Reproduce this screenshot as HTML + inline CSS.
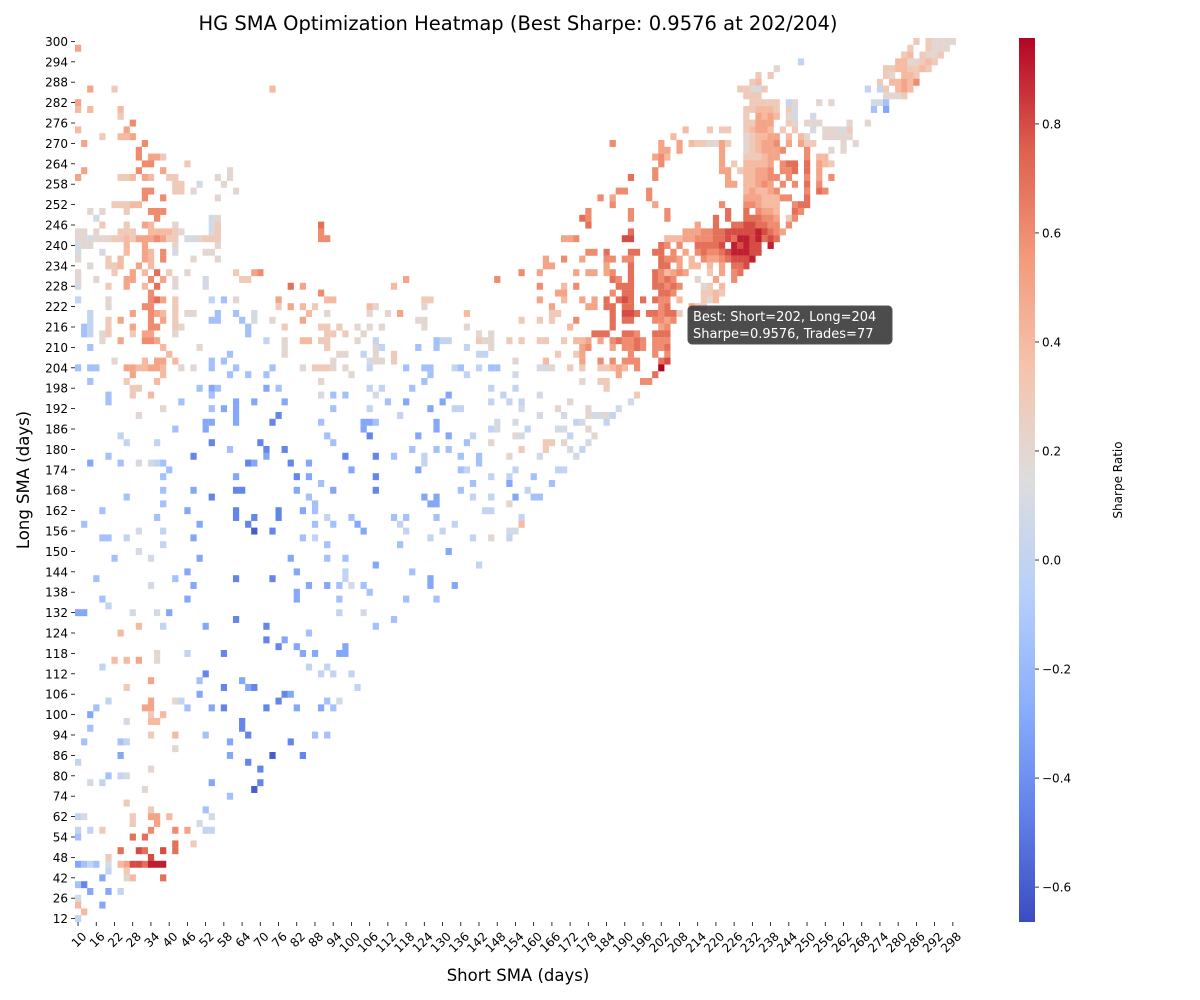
<!DOCTYPE html>
<html><head><meta charset="utf-8"><style>
html,body{margin:0;padding:0;background:#fff;}
svg{display:block;font-family:"DejaVu Sans","Liberation Sans",sans-serif;}
</style></head><body>
<svg id="chart" width="1200" height="1000" viewBox="0 0 1200 1000" xmlns="http://www.w3.org/2000/svg">
<defs><linearGradient id="cbgrad" x1="0" y1="1" x2="0" y2="0"></linearGradient></defs>
<text x="518" y="30" text-anchor="middle" font-size="19.5" fill="#000">HG SMA Optimization Heatmap (Best Sharpe: 0.9576 at 202/204)</text>
<g id="cells"></g>
<g id="xaxis"></g>
<g id="yaxis"></g>
<text x="518" y="981" text-anchor="middle" font-size="16.5">Short SMA (days)</text>
<text transform="translate(29,480) rotate(-90)" text-anchor="middle" font-size="16.5">Long SMA (days)</text>
<g>
<rect x="688" y="306" width="204" height="38" rx="4" fill="#333" fill-opacity="0.88" stroke="#555"/>
<text x="693" y="321" font-size="13" fill="#fff">Best: Short=202, Long=204</text>
<text x="693" y="338" font-size="13" fill="#fff">Sharpe=0.9576, Trades=77</text>
</g>
<g id="colorbar"></g>
<text transform="translate(1122,480) rotate(-90)" text-anchor="middle" font-size="12">Sharpe Ratio</text>
</svg>
<script>
const levelCodes = "abcdefghijklmno";
const levelValues = [-0.6,-0.45,-0.3,-0.15,0.0,0.1,0.2,0.3,0.4,0.5,0.6,0.7,0.8,0.9,0.9576];
const colorbarTicks = [0.8,0.6,0.4,0.2,0.0,-0.2,-0.4,-0.6];
const vmin = -0.664, vmax = 0.9576;
const longValues = [300,298,296,294,292,290,288,286,284,282,280,278,276,274,272,270,268,266,264,262,260,258,256,254,252,250,248,246,244,242,240,238,236,234,232,230,228,226,224,222,220,218,216,214,212,210,208,206,204,202,200,198,196,194,192,190,188,186,184,182,180,178,176,174,172,170,168,166,164,162,160,158,156,154,152,150,148,146,144,142,140,138,136,134,132,130,126,124,122,120,118,116,114,112,110,108,106,104,102,100,98,96,94,90,88,86,84,82,80,78,76,74,70,66,62,60,56,54,52,50,48,46,44,42,38,32,26,20,16,12];
const shortValues = [];
for (let s = 10; s <= 300; s += 2) shortValues.push(s);
const rowCells = [
"138h,140h,141g,142g,143g,144g",
"0j,137h,140h,141g,142g,143g",
"136h,137i,139h,140g,141g,142h",
"119e,135i,136i,137g,138g,139h,140i,141h",
"115g,133h,134h,135i,136i,137h,138h,139i,140h",
"112h,114h,133h,134g,136i,137i,138h",
"111h,112i,132h,134i,135i,136j,137i,138k",
"2j,6h,32i,109h,110h,111g,112f,113h,130e,132e,133h,135i,136j,137i",
"110h,111h,112h,133g,134g,135g,136h",
"0j,111h,112h,113h,114h,115h,117e,118g,122g,124g,131f,132f,133d",
"0i,2i,7i,110h,111h,112i,113i,114i,115h,117h,118f,131d,133c",
"7h,110h,112j,113i,114j,115i,117g,118f,121f",
"9k,110h,111h,112j,113j,114j,117h,118g,120g,121g,122g,127g,130g",
"0i,8j,100i,104h,106h,107h,110h,111i,112j,113j,114i,116h,118h,121f,123g,124g,125g,126f,127h",
"4h,7i,8i,9j,98i,110g,111h,112i,113i,114j,115j,117i,119i,120g,123g,124g,125g,126g,127g",
"1j,11k,88k,96j,99j,101i,102h,103h,104g,105g,106j,107h,110g,111h,112i,113j,114j,115k,117j,119j,120h,121h,126g,128g",
"10k,96j,97j,99j,106j,110g,111h,112i,113j,114j,115j,116k,120k,124g,126g",
"10k,12j,13j,14h,95j,96k,97i,106j,110h,111h,112h,113i,114j,115j,120k,122i,123i",
"11k,12k,18h,96k,106j,108h,110i,111i,112i,113i,114j,116k,117l,118l,120l,122j,123i,124h",
"1j,10k,14j,25g,95k,106j,107j,109h,110i,111i,112j,113j,114k,116k,117k,118l,120l,122j",
"0j,7h,8h,9i,11j,12i,15h,16h,23g,25g,91l,95k,107j,110i,111i,112j,113j,114k,115k,117k,120k,122j,124k",
"16h,17h,20f,24g,107j,108j,110i,111i,112j,113k,114j,116k,118k,120l,122k",
"11k,12k,16h,17h,19g,26g,89k,90k,94k,110i,111j,112i,113i,114j,115k,120k,122l,123k",
"11k,14k,23g,86k,88j,94k,110j,111j,112j,113i,114i,115i,116k,117k,120l",
"6h,7h,8h,9i,10i,88k,95j,106k,110k,111k,112j,113i,114i,115i,118k,119l,120l",
"2g,4g,8h,12k,13k,14k,84k,91k,97k,107l,110l,112k,113j,114j,115i,118l,119k",
"3f,13k,22f,23g,83l,84k,91k,97k,105l,107l,110l,111l,112l,113k,114k,115j,117h,118k",
"4h,8h,11j,12i,16g,22f,23h,40l,84l,102j,105l,108l,109l,110m,111m,112l,113l,114k,115k,117k",
"0g,1g,3g,7h,8h,9h,12i,13i,14i,15i,16h,17g,22f,23h,40k,91l,100j,101j,102j,103k,104k,105l,106l,107m,108m,109m,110m,111m,112n,113m,114l,115k,116j",
"0g,1g,2f,3g,4g,5g,6h,7h,8i,9h,10j,11j,12j,13k,14j,15h,16h,18f,19f,20g,21h,22h,23h,40k,41k,80j,81j,82k,90m,91m,97i,98i,99i,100j,101j,102k,103k,104k,105l,106l,107m,108l,109n,110n,111m,112n,113l,114m,115l",
"0f,1g,2g,8i,11j,16g,23g,96l,97k,99k,102l,103l,104l,105l,106m,108n,109m,110n,111m,112m,114n",
"0f,4f,8i,11j,12i,14k,16f,21g,22g,84k,85k,87l,91l,92l,95l,96l,98k,100j,102k,103l,104k,105k,106l,107m,108n,109n,110n,111m,112m",
"0g,5h,7i,11j,12i,14k,19g,23g,77j,80k,83j,87k,88k,90k,91k,96l,97k,98k,99j,101i,103k,104j,105j,106k,107l,108m,109m,110m,111n",
"2g,5h,6h,7i,10j,12i,77j,78j,87j,91l,96l,97l,99j,101i,102i,104i,106j,108l,109l,110m",
"0g,6h,9j,11i,13l,15h,18g,26h,29j,30k,73k,76j,82j,84j,85j,87j,88k,91l,95l,96k,97i,98j,99k,100j,104h,106j,108k,109l",
"0g,3g,8j,9j,12k,14j,16g,21f,27h,28h,54j,69k,88l,89k,91l,95l,96k,97l,98k,102g,105j,108k",
"0f,5h,8j,11i,13l,16g,21f,35l,37j,52i,76k,80i,82k,89l,90l,91l,95l,96l,97k,98l,99k,103g,104h,106i",
"12k,40k,79j,80j,88k,90l,91l,96l,97l,98k,103h,104h,105i,106h",
"0e,5g,12k,13l,14j,16h,22e,24d,26g,33j,41i,42i,57h,58h,76j,80i,83j,85j,87l,89l,90m,91l,93l,95l,96k,97k,99i,103h,104g,105i",
"5g,11k,12k,16h,33h,35j,37i,39h,48i,49g,57g,78j,84j,85j,87l,88l,90l,91l,96k,97l,101j,102h,103h",
"2e,9j,12k,13j,14i,16h,18g,19g,23d,26d,29f,38i,41g,48g,51g,53j,64i,78h,79h,88l,90m,91m,92l,94l,95l,96k,97l,98l,99h",
"2e,5h,7j,12k,14j,16h,22d,23d,27d,29f,32g,37j,56g,57g,73h,76h,78h,82k,88l,90l,91l,95k,96k,97j,98k",
"1d,2e,5h,9j,12k,13k,16h,17g,28d,34h,40h,41h,43h,46g,48g,50g,57g,64g,81i,88l,96j,97k",
"1d,2e,4g,5h,9h,11j,12j,16g,28d,41h,42h,44h,47g,66g,68g,85l,86l,87l,90l,91l,92k,95l,96l,97l",
"4g,7j,11k,12k,13j,31e,34g,37i,38i,40h,41h,46g,49e,59d,60e,61e,66h,67g,68g,71h,73h,76h,77h,80h,82i,83i,84j,86j,88k,89l,90k,91k,92l,93k,95k,96k,97k",
"2d,14i,20g,34g,41h,49g,50e,56d,59d,64e,68g,83j,84k,88j,90k,91k,92l,93k,95k,96k,97l",
"15i,25d,34g,43g,44g,47e,49g,52h,66e,67e,79h,82h,83j,91k,95k,97k",
"6g,11i,13j,14j,16i,22d,24d,42g,48f,49g,50g,52h,72g,77i,83j,86k,88k,90k,91k,92k,96l,97m",
"0d,2d,3d,8j,9j,10i,11i,12j,13j,14i,17g,19g,22d,26d,32d,37g,39h,40h,41h,42g,44g,48e,54d,57d,58d,62e,63d,66e,68d,69d,76f,77f,78g,81h,83h,86h,87h,88i,89j,90i,92k,96o",
"9j,14i,25d,28d,31d,45g,58d,64e,72f,89j,95l",
"2d,8h,13i,40g,57d,83g,86h,87h,93k,94k",
"9h,10h,20d,22c,23d,31c,33d,48e,50e,55d,68e,72e,87h",
"5d,9h,12i,22d,40f,42d,44d,49f,61c,70e,76f,92h",
"5d,17d,26c,29c,34c,51d,54c,60c,68e,71e,73e,81g,91f",
"14g,22d,24c,26c,42d,48e,58c,62e,63e,73f,79g,84g,89f",
"10g,26c,33b,53e,76f,80f,84g,85f,86f,87g,88e",
"21c,22c,26c,32b,40d,47c,48c,49d,59c,69f,72f,82e,83f,87e",
"16d,21c,47c,59c,68e,69f,74e,79f,80f,84g",
"7e,41d,48b,56c,61c,65e,72g,73f,81e,85g",
"8e,13e,22b,30b,42d,64d,68g,77h,78h,80g,84f",
"25d,31b,34b,55d,59d,61d,73h,77h,81f,83e",
"5d,19b,31c,44b,49b,52d,57e,63d,66d,71g,76f,82f",
"2c,7d,10f,12f,13e,14d,28b,29c,35b,38c,57e,66d",
"15d,45c,56c,63d,64e,72e,79e,80e",
"14d,26c,36b,38c,49b,68e,71e,75d",
"40d,65d,71c,78d",
"14d,19c,26b,27b,36c,42c,49b,63d,74e",
"8d,22b,38d,57c,59c,65e,68e,72c,75d,76d",
"14d,39d,58c,59c,71g",
"4d,18c,26b,33b,37c,39d,67e,68e",
"13d,26b,29b,33b,41e,45d,52d,54d,59d,73e",
"1d,20c,28b,39d,42d,46c,53e,62e,73i",
"10f,14e,29a,32b,47c,54e,60e,71f,72f",
"4d,5d,8e,19c,37d,39e,58e,65e,68g,71e",
"14e,41d,53d",
"10f,61c",
"6d,12f,20c,35c,41d,44d",
"49c,66e",
"18c,36c,44e,55d",
"3d,16d,26b,32b,44e,58c",
"12f,19c,38c,41c,43d,45f,47d,58c,62c",
"36c,48d",
"4d,18c,36c,43d,54d,59d",
"5e",
"0c,1c,9f,13f,15c,43e,47f",
"26b,52d",
"10i,14e,21c,31b,49d",
"7i,38d",
"31b,34c",
"33b,36c,44c",
"13g,18e,24b,37c,39c,43c,44c",
"6i,8i,10j,13g",
"4e,38e,41e",
"21b,40e,42e,45e",
"12j,20d,27c",
"8h,24b,28c,29b,46e",
"20c,34b,35c",
"5e,12j,16g,17e,33b,41d,43f",
"3d,11j,12j,18d,22c,24b,31b,36c,40c,42d",
"2c,12h,14i",
"8f,12i,13i,27b",
"2d,27b",
"12h,16i,21d,28b,39d,41d",
"1d,7d,8e,25c,35b",
"16g",
"7c,25c,32a,37b",
"0e,28b",
"12g,30b",
"5d,7e,8f",
"2f,4e,22c,30b",
"11g,29a",
"25d",
"8h",
"12h,21d",
"0e,1f,9h,12j,13j,15i,22f",
"9h,13j,20f",
"0e,2e,4h,12k,16k,18j,21e,22e",
"0d,9l,11l",
"16l,19h",
"7l,10m,11l,14m,16l",
"5h,12m",
"0c,1d,2e,3d,5f,7i,8j,9m,10m,11l,12n,13n,14n",
"5e,8h",
"4c,8g,9i,14l",
"0d,1b",
"2c,5c,7e",
"0f",
"0i,4c",
"1i",
"0e"
];

const NS = "http://www.w3.org/2000/svg";
const plotL = 75, plotT = 38, colW = 6.075, rowH = 6.8;
function xScale(c){ return plotL + c*colW; }
function yScale(r){ return plotT + r*rowH; }
const cmapStops = [[0,[59,76,192]],[0.125,[98,130,234]],[0.25,[141,176,254]],[0.375,[184,208,249]],[0.5,[221,221,221]],[0.625,[245,196,173]],[0.75,[244,154,123]],[0.875,[222,96,77]],[1,[180,4,38]]];
function cmap(t){
  t = Math.max(0, Math.min(1, t));
  for (let i = 1; i < cmapStops.length; i++) {
    if (t <= cmapStops[i][0]) {
      const a = cmapStops[i-1], b = cmapStops[i];
      const f = (t - a[0])/(b[0]-a[0]);
      const c = a[1].map((v,k)=>Math.round(v + (b[1][k]-v)*f));
      return "rgb(" + c.join(",") + ")";
    }
  }
  return "rgb(180,4,38)";
}
function colorFor(v){ return cmap((v - vmin)/(vmax - vmin)); }
function mk(tag, attrs){ const e = document.createElementNS(NS, tag); for (const k in attrs) e.setAttribute(k, attrs[k]); return e; }

const cellsG = document.getElementById("cells");
rowCells.forEach((row, r) => {
  if (!row) return;
  row.split(",").forEach(tok => {
    const c = parseInt(tok, 10);
    const v = levelValues[levelCodes.indexOf(tok.slice(-1))];
    const rect = mk("rect", {x: xScale(c).toFixed(2), y: yScale(r).toFixed(2), width: (colW+0.15).toFixed(2), height: (rowH+0.15).toFixed(2), fill: colorFor(v)});
    
    
    cellsG.appendChild(rect);
  });
});

const xg = document.getElementById("xaxis");
const plotB = yScale(longValues.length);
for (let i = 0; i < shortValues.length; i += 3) {
  const xc = xScale(i + 0.5);
  const tk = mk("line", {x1: xc, y1: plotB, x2: xc, y2: plotB + 4, stroke: "#000", "stroke-width": 0.8});
  
  
  xg.appendChild(tk);
  const t = mk("text", {transform: "translate(" + (xc + 3) + "," + (plotB + 9) + ") rotate(-45)", "text-anchor": "end", "font-size": 12, "dominant-baseline": "hanging"});
  t.textContent = shortValues[i];
  
  
  xg.appendChild(t);
}
const yg = document.getElementById("yaxis");
for (let i = 0; i < longValues.length; i += 3) {
  const yc = yScale(i + 0.5);
  const tk = mk("line", {x1: plotL - 4, y1: yc, x2: plotL, y2: yc, stroke: "#000", "stroke-width": 0.8});
  
  
  yg.appendChild(tk);
  const t = mk("text", {x: plotL - 7, y: yc + 4.5, "text-anchor": "end", "font-size": 12});
  t.textContent = longValues[i];
  
  
  yg.appendChild(t);
}

const grad = document.getElementById("cbgrad");
cmapStops.forEach(s => { grad.appendChild(mk("stop", {offset: s[0], "stop-color": "rgb(" + s[1].join(",") + ")"})); });
const cb = document.getElementById("colorbar");
const cbX = 1019, cbW = 16, cbT = plotT, cbB = plotB;
const cbRect = mk("rect", {x: cbX, y: cbT, width: cbW, height: cbB - cbT, fill: "url(#cbgrad)"});


cb.appendChild(cbRect);
function cbY(v){ return cbB - (v - vmin)/(vmax - vmin)*(cbB - cbT); }
colorbarTicks.forEach(v => {
  const y = cbY(v);
  const tk = mk("line", {x1: cbX + cbW, y1: y, x2: cbX + cbW + 4, y2: y, stroke: "#000", "stroke-width": 0.8});
  
  
  cb.appendChild(tk);
  const t = mk("text", {x: cbX + cbW + 7, y: y + 4.5, "font-size": 12});
  t.textContent = (v < 0 ? "\u2212" : "") + Math.abs(v).toFixed(1);
  
  
  cb.appendChild(t);
});
</script>
</body></html>
